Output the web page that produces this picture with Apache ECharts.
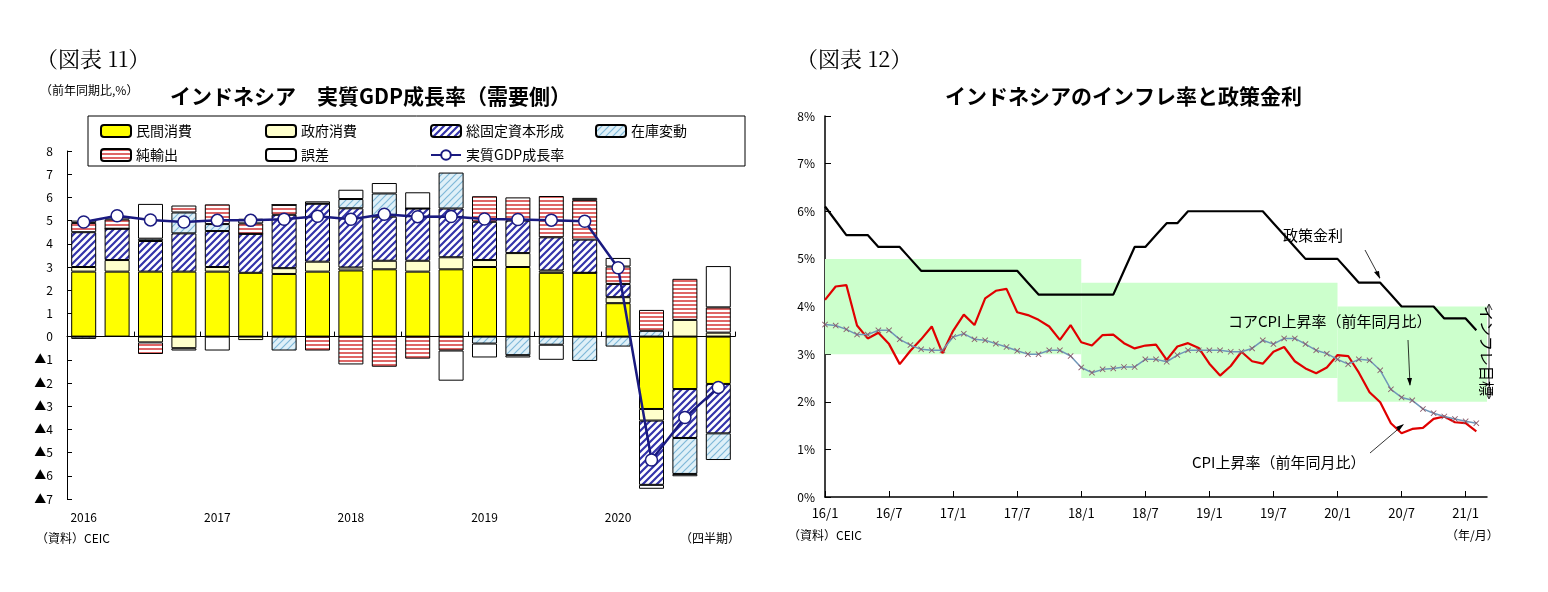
<!DOCTYPE html>
<html>
<head>
<meta charset="utf-8">
<script src="https://cdn.jsdelivr.net/npm/echarts@6/dist/echarts.min.js"></script>
<style>
  html, body { margin: 0; padding: 0; background: #fff; }
  #main { width: 1548px; height: 592px; }
</style>
</head>
<body>
<div id="main"></div>
<script>
// ---- 図表11 データ（四半期, 前年同期比寄与度 %）
const quarters = ['2016', '', '', '', '2017', '', '', '', '2018', '', '', '', '2019', '', '', '', '2020', '', '', ''];
const privCons = [2.8, 2.8, 2.8, 2.8, 2.8, 2.75, 2.7, 2.8, 2.85, 2.9, 2.8, 2.9, 3.0, 3.0, 2.75, 2.75, 1.44, -3.12, -2.26, -2.04];
const govCons = [0.2, 0.5, -0.25, -0.5, 0.2, -0.15, 0.25, 0.43, 0.13, 0.37, 0.47, 0.52, 0.3, 0.6, 0.1, 0, 0.26, -0.5, 0.72, 0.17];
const gfcf = [1.5, 1.35, 1.32, 1.65, 1.55, 1.68, 2.3, 2.5, 2.55, 1.9, 2.25, 2.1, 1.65, 1.4, 1.43, 1.43, 0.57, -2.77, -2.11, -2.13];
const inventory = [-0.1, 0, 0.1, 0.9, 0.3, 0, -0.6, 0, 0.4, 1.0, 0, 1.55, -0.3, -0.8, -0.35, -1.05, -0.43, 0.25, -1.55, -1.15];
const netExports = [0.4, 0.4, -0.5, 0.3, 0.85, 0.45, 0.43, -0.6, -1.2, -1.3, -0.95, -0.6, 1.1, 1.0, 1.78, 1.7, 0.75, 0.9, 1.77, 1.09];
const errorTerm = [0.1, 0.1, 1.5, -0.1, -0.6, 0.2, 0, 0.1, 0.4, 0.45, 0.7, -1.3, -0.6, -0.1, -0.65, 0.1, 0.37, -0.17, -0.1, 1.78];
const gdpGrowth = [4.94, 5.21, 5.03, 4.94, 5.01, 5.01, 5.06, 5.19, 5.06, 5.27, 5.17, 5.18, 5.07, 5.05, 5.02, 4.97, 2.97, -5.32, -3.49, -2.19];
const leftYTicks = { '8': '8', '7': '7', '6': '6', '5': '5', '4': '4', '3': '3', '2': '2', '1': '1', '0': '0',
  '-1': '▲1', '-2': '▲2', '-3': '▲3', '-4': '▲4', '-5': '▲5', '-6': '▲6', '-7': '▲7' };

// ---- 図表12 データ（月次, %）
const months = [];
for (let y = 16; y <= 21; y++) {
  for (let m = 1; m <= 12; m++) {
    if (y === 21 && m > 3) break;
    months.push(y + '/' + m);
  }
}
const cpi = [
  4.14, 4.42, 4.45, 3.60, 3.33, 3.45, 3.21, 2.79, 3.07, 3.31, 3.58, 3.02,
  3.49, 3.83, 3.61, 4.17, 4.33, 4.37, 3.88, 3.82, 3.72, 3.58, 3.30, 3.61,
  3.25, 3.18, 3.40, 3.41, 3.23, 3.12, 3.18, 3.20, 2.88, 3.16, 3.23, 3.13,
  2.80, 2.55, 2.75, 3.05, 2.85, 2.80, 3.05, 3.15, 2.85, 2.70, 2.60, 2.72,
  2.98, 2.96, 2.61, 2.20, 1.99, 1.55, 1.34, 1.43, 1.45, 1.64, 1.69, 1.57,
  1.55, 1.38, null
];
const coreCpi = [
  3.62, 3.60, 3.52, 3.41, 3.41, 3.50, 3.50, 3.31, 3.19, 3.10, 3.08, 3.08,
  3.36, 3.43, 3.31, 3.29, 3.22, 3.15, 3.07, 3.00, 3.00, 3.08, 3.08, 2.96,
  2.72, 2.61, 2.68, 2.70, 2.73, 2.73, 2.89, 2.89, 2.84, 2.98, 3.08, 3.08,
  3.08, 3.08, 3.05, 3.05, 3.12, 3.29, 3.21, 3.33, 3.33, 3.21, 3.08, 3.01,
  2.89, 2.79, 2.89, 2.87, 2.66, 2.26, 2.09, 2.03, 1.85, 1.76, 1.69, 1.64,
  1.59, 1.55, null
];
const policyRate = [
  6.10, 5.80, 5.50, 5.50, 5.50, 5.25, 5.25, 5.25, 5.00, 4.75, 4.75, 4.75,
  4.75, 4.75, 4.75, 4.75, 4.75, 4.75, 4.75, 4.50, 4.25, 4.25, 4.25, 4.25,
  4.25, 4.25, 4.25, 4.25, 4.75, 5.25, 5.25, 5.50, 5.75, 5.75, 6.00, 6.00,
  6.00, 6.00, 6.00, 6.00, 6.00, 6.00, 5.75, 5.50, 5.25, 5.00, 5.00, 5.00,
  5.00, 4.75, 4.50, 4.50, 4.50, 4.25, 4.00, 4.00, 4.00, 4.00, 3.75, 3.75,
  3.75, 3.50, null
];
// インフレ目標レンジ [開始, 終了, 下限, 上限]
const targetBands = [['16/1', '18/1', 3, 5], ['18/1', '20/1', 2.5, 4.5], ['20/1', '21/3', 2, 4]];

// ハッチ模様
function makePattern(bg, fg, kind) {
  const c = document.createElement('canvas');
  const s = kind === 'hline' ? 4 : 7;
  c.width = s; c.height = s;
  const ctx = c.getContext('2d');
  ctx.fillStyle = bg; ctx.fillRect(0, 0, s, s);
  ctx.strokeStyle = fg;
  if (kind === 'hline') {
    ctx.lineWidth = 1.6;
    ctx.beginPath(); ctx.moveTo(0, 1); ctx.lineTo(s, 1); ctx.stroke();
  } else {
    ctx.lineWidth = kind === 'diag' ? 2.2 : 1.2;
    ctx.beginPath();
    ctx.moveTo(0, s); ctx.lineTo(s, 0);
    ctx.moveTo(-1, 1); ctx.lineTo(1, -1);
    ctx.moveTo(s - 1, s + 1); ctx.lineTo(s + 1, s - 1);
    ctx.stroke();
  }
  return { image: c, repeat: 'repeat' };
}

const font = '"Noto Sans CJK JP", sans-serif';
const myChart = echarts.init(document.getElementById('main'));

function barSeries(name, data, color) {
  return {
    name: name, type: 'bar', stack: 'gdp', data: data, barWidth: 25,
    xAxisIndex: 0, yAxisIndex: 0,
    itemStyle: { color: color, borderColor: '#000', borderWidth: 1 }
  };
}

const markAreaData = targetBands.map(function (b) {
  return [{ xAxis: b[0], yAxis: b[2] }, { xAxis: b[1], yAxis: b[3] }];
});

// 凡例は列ごとに配置
const legendCells = [
  ['民間消費', 95, 119], ['政府消費', 260, 119], ['総固定資本形成', 425, 119], ['在庫変動', 590, 119],
  ['純輸出', 95, 143], ['誤差', 260, 143], ['実質GDP成長率', 425, 143]
];

const option = {
  animation: false,
  textStyle: { fontFamily: font },
  legend: legendCells.map(function (c) {
    return {
      left: c[1], top: c[2], itemWidth: 30, itemHeight: 12, data: [c[0]],
      textStyle: { fontSize: 14, color: '#000', fontFamily: font }
    };
  }),
  grid: [
    { left: 67, width: 668, top: 151, height: 348 },
    { left: 825, width: 662, top: 116, height: 381 }
  ],
  xAxis: [
    {
      gridIndex: 0, type: 'category', data: quarters,
      axisLine: { onZero: true, lineStyle: { color: '#000' } },
      axisTick: { show: true, inside: true, length: 5, lineStyle: { color: '#000' } },
      axisLabel: { show: false }
    },
    {
      gridIndex: 0, type: 'category', data: quarters, position: 'bottom',
      axisLine: { show: false }, axisTick: { show: false },
      axisLabel: { interval: 0, color: '#000', fontSize: 12, margin: 12, align: 'center' }
    },
    {
      gridIndex: 1, type: 'category', data: months, boundaryGap: false,
      axisLine: { lineStyle: { color: '#000', width: 1.5 } },
      axisTick: { inside: true, interval: 5, length: 6, lineStyle: { color: '#000' } },
      axisLabel: { interval: 5, color: '#000', fontSize: 13, margin: 10 }
    }
  ],
  yAxis: [
    {
      gridIndex: 0, type: 'value', min: -7, max: 8, interval: 1,
      splitLine: { show: false },
      axisLine: { show: true, lineStyle: { color: '#000' } },
      axisTick: { show: true, inside: true, length: 5, lineStyle: { color: '#000' } },
      axisLabel: { color: '#000', fontSize: 12, margin: 14, formatter: function (v) { return leftYTicks[String(v)]; } }
    },
    {
      gridIndex: 1, type: 'value', min: 0, max: 8, interval: 1,
      splitLine: { show: false },
      axisLine: { show: true, lineStyle: { color: '#000', width: 1.5 } },
      axisTick: { show: true, inside: true, length: 6, lineStyle: { color: '#000' } },
      axisLabel: { color: '#000', fontSize: 12, margin: 10, formatter: '{value}%' }
    }
  ],
  series: [
    barSeries('民間消費', privCons, '#ffff00'),
    barSeries('政府消費', govCons, '#ffffcc'),
    barSeries('総固定資本形成', gfcf, makePattern('#ffffff', '#3333aa', 'diag')),
    barSeries('在庫変動', inventory, makePattern('#dff0f8', '#7fb8d8', 'thin')),
    barSeries('純輸出', netExports, makePattern('#ffffff', '#d84040', 'hline')),
    barSeries('誤差', errorTerm, '#ffffff'),
    {
      name: '実質GDP成長率', type: 'line', data: gdpGrowth, xAxisIndex: 0, yAxisIndex: 0,
      symbol: 'circle', symbolSize: 12, z: 5,
      lineStyle: { color: '#1a1a80', width: 2.5 },
      itemStyle: { color: '#ffffff', borderColor: '#1a1a80', borderWidth: 1.5 }
    },
    {
      name: '政策金利', type: 'line', data: policyRate, xAxisIndex: 2, yAxisIndex: 1,
      symbol: 'none', lineStyle: { color: '#000', width: 2.2 }, z: 4,
      markArea: { silent: true, itemStyle: { color: '#ccffcc' }, data: markAreaData }
    },
    {
      name: 'CPI上昇率', type: 'line', data: cpi, xAxisIndex: 2, yAxisIndex: 1,
      symbol: 'none', lineStyle: { color: '#e00000', width: 2.2 }, z: 3
    },
    {
      name: 'コアCPI上昇率', type: 'line', data: coreCpi, xAxisIndex: 2, yAxisIndex: 1,
      symbol: 'path://M0,1L1,0L5,4L9,0L10,1L6,5L10,9L9,10L5,6L1,10L0,9L4,5Z', symbolSize: 6,
      lineStyle: { color: '#6f96b8', width: 1.5 }, itemStyle: { color: '#8a5a6a' }, z: 3
    }
  ],
  graphic: [
    { type: 'text', z: 100, left: 36, top: 48, style: { text: '（図表 11）', font: '22px "Noto Serif CJK JP", "Noto Sans CJK JP", serif', fill: '#000' } },
    { type: 'text', z: 100, left: 40, top: 84, style: { text: '（前年同期比,%）', font: '12px ' + font, fill: '#000' } },
    { type: 'text', z: 100, left: 170, top: 86, style: { text: 'インドネシア　実質GDP成長率（需要側）', font: 'bold 21px ' + font, fill: '#000' } },
    { type: 'rect', shape: { x: 88, y: 116, width: 657, height: 50 }, style: { fill: 'none', stroke: '#000', lineWidth: 1 }, z: -1 },
    { type: 'text', z: 100, left: 36, top: 532, style: { text: '（資料）CEIC', font: '12px ' + font, fill: '#000' } },
    { type: 'text', z: 100, left: 680, top: 532, style: { text: '（四半期）', font: '12px ' + font, fill: '#000' } },

    { type: 'text', z: 100, left: 796, top: 48, style: { text: '（図表 12）', font: '22px "Noto Serif CJK JP", "Noto Sans CJK JP", serif', fill: '#000' } },
    { type: 'text', z: 100, left: 945, top: 86, style: { text: 'インドネシアのインフレ率と政策金利', font: 'bold 21px ' + font, fill: '#000' } },
    { type: 'text', z: 100, left: 788, top: 529, style: { text: '（資料）CEIC', font: '12px ' + font, fill: '#000' } },
    { type: 'text', z: 100, left: 1446, top: 529, style: { text: '（年/月）', font: '12px ' + font, fill: '#000' } },

    { type: 'text', z: 100, left: 1283, top: 228, style: { text: '政策金利', font: '15px ' + font, fill: '#000' } },
    { type: 'line', z: 100, shape: { x1: 1365, y1: 250, x2: 1380, y2: 278 }, style: { stroke: '#000', lineWidth: 0.8 } },
    { type: 'polygon', z: 100, shape: { points: [[1380, 279], [1374, 272], [1379, 271]] }, style: { fill: '#000' } },

    { type: 'text', z: 100, left: 1228, top: 314, style: { text: 'コアCPI上昇率（前年同月比）', font: '15px ' + font, fill: '#000' } },
    { type: 'line', z: 100, shape: { x1: 1408, y1: 340, x2: 1410, y2: 385 }, style: { stroke: '#000', lineWidth: 0.8 } },
    { type: 'polygon', z: 100, shape: { points: [[1410, 386], [1407, 378], [1412, 378]] }, style: { fill: '#000' } },

    { type: 'text', z: 100, left: 1192, top: 455, style: { text: 'CPI上昇率（前年同月比）', font: '15px ' + font, fill: '#000' } },
    { type: 'line', z: 100, shape: { x1: 1370, y1: 453, x2: 1403, y2: 425 }, style: { stroke: '#000', lineWidth: 0.8 } },
    { type: 'polygon', z: 100, shape: { points: [[1404, 424], [1396, 427], [1399, 431]] }, style: { fill: '#000' } },

    { type: 'line', z: 100, shape: { x1: 1489, y1: 305, x2: 1489, y2: 398 }, style: { stroke: '#000', lineWidth: 0.8 } },
    { type: 'polyline', z: 100, shape: { points: [[1486, 310], [1489, 304], [1492, 310]] }, style: { stroke: '#000', fill: 'none', lineWidth: 0.8 } },
    { type: 'polyline', z: 100, shape: { points: [[1486, 393], [1489, 399], [1492, 393]] }, style: { stroke: '#000', fill: 'none', lineWidth: 0.8 } },
    { type: 'text', z: 100, x: 1494, y: 351, rotation: -Math.PI / 2,
      style: { text: 'インフレ目標', font: '15px ' + font, fill: '#000', align: 'center', verticalAlign: 'top' } }
  ]
};

myChart.setOption(option);
window.addEventListener('resize', function () {
  myChart && myChart.resize();
});
</script>
</body>
</html>
